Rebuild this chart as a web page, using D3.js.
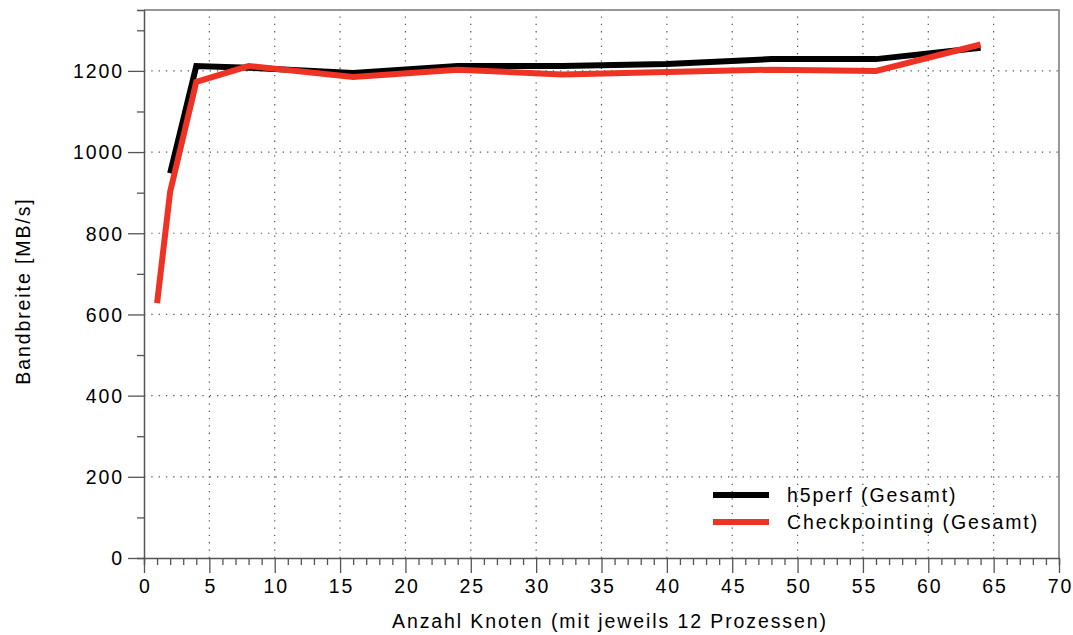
<!DOCTYPE html>
<html>
<head>
<meta charset="utf-8">
<script src="https://cdn.jsdelivr.net/npm/d3@7"></script>
<style>
  body { margin: 0; background: #fff; }
  svg { display: block; font-family: "Liberation Sans", Arial, Helvetica, sans-serif; }
  svg text { font-size: 19.5px; letter-spacing: 1.9px; fill: #000; }
</style>
</head>
<body>
<svg id="chart" width="1073" height="635"></svg>
<script>
// Node counts and measured bandwidth (MB/s)
const nodesH5 = [2, 4, 8, 16, 24, 32, 40, 48, 56, 64];
const h5perf = [948, 1212, 1208, 1195, 1212, 1212, 1217, 1229, 1229, 1257];
const nodesCp = [1, 2, 4, 8, 16, 24, 32, 40, 48, 56, 64];
const checkpointing = [628, 902, 1173, 1212, 1185, 1203, 1191, 1197, 1203, 1200, 1265];

const xMajorTicks = [0, 5, 10, 15, 20, 25, 30, 35, 40, 45, 50, 55, 60, 65, 70];
const yMajorTicks = [0, 200, 400, 600, 800, 1000, 1200];
const seriesNames = ["h5perf (Gesamt)", "Checkpointing (Gesamt)"];
const seriesColors = ["#000000", "#ee3224"];

const W = 1073, H = 635;
const margin = { left: 144, right: 14, top: 10, bottom: 77 };
const svg = d3.select("#chart");

const x = d3.scaleLinear().domain([0, 70]).range([margin.left, W - margin.right]);
const y = d3.scaleLinear().domain([0, 1350]).range([H - margin.bottom, margin.top]);

const axisColor = "#555";
const trail = 0.95; // half of the trailing letter-spacing, for centred labels

// dotted grid
const grid = svg.append("g").attr("stroke", "#555").attr("stroke-width", 1.2)
  .attr("stroke-dasharray", "1.3,6");
grid.selectAll(".gv").data(xMajorTicks.filter(d => d > 0 && d < 70)).join("line")
  .attr("x1", d => x(d)).attr("x2", d => x(d))
  .attr("y1", y(0)).attr("y2", y(1350));
grid.selectAll(".gh").data(yMajorTicks.filter(d => d > 0)).join("line")
  .attr("y1", d => y(d)).attr("y2", d => y(d))
  .attr("x1", x(0)).attr("x2", x(70));

// frame (top & right)
svg.append("path")
  .attr("d", `M${x(0)},${y(1350)}H${x(70)}V${y(0)}`)
  .attr("fill", "none").attr("stroke", "#777").attr("stroke-width", 1.5);

// x axis: minor ticks every node, labels every 5
const xAxis = svg.append("g").attr("transform", `translate(0,${y(0)})`)
  .call(d3.axisBottom(x).tickValues(d3.range(0, 71, 1)).tickSize(7).tickFormat(""));
xAxis.select(".domain").attr("stroke", axisColor).attr("stroke-width", 1.5);
xAxis.selectAll(".tick line").attr("stroke", axisColor).attr("stroke-width", 1.3)
  .attr("y2", d => d % 5 === 0 ? 15 : 7);
xAxis.selectAll(".tick").filter(d => d % 5 === 0).append("text")
  .attr("x", trail).attr("y", 35).attr("text-anchor", "middle")
  .text(d => d);

// y axis: minor ticks every 100, labels every 200
const yAxis = svg.append("g").attr("transform", `translate(${x(0)},0)`)
  .call(d3.axisLeft(y).tickValues(d3.range(0, 1301, 100)).tickSize(7).tickFormat(""));
yAxis.select(".domain").attr("stroke", axisColor).attr("stroke-width", 1.5);
yAxis.selectAll(".tick line").attr("stroke", axisColor).attr("stroke-width", 1.3)
  .attr("x2", d => d % 200 === 0 ? -16 : -7);
yAxis.selectAll(".tick").filter(d => d % 200 === 0).append("text")
  .attr("x", -20.1).attr("dy", "0.35em").attr("text-anchor", "end")
  .text(d => d);

// axis titles
svg.append("text")
  .attr("x", 609 + trail).attr("y", 628).attr("text-anchor", "middle")
  .text("Anzahl Knoten (mit jeweils 12 Prozessen)");
svg.append("text")
  .attr("transform", `translate(30,${292 - trail}) rotate(-90)`).attr("text-anchor", "middle")
  .text("Bandbreite [MB/s]");

// series
const line = d3.line().x(d => x(d[0])).y(d => y(d[1]));
const series = [
  d3.zip(nodesH5, h5perf),
  d3.zip(nodesCp, checkpointing)
];
series.forEach((pts, i) => {
  svg.append("path").datum(pts)
    .attr("d", line)
    .attr("fill", "none")
    .attr("stroke", seriesColors[i])
    .attr("stroke-width", 6)
    .attr("stroke-linejoin", "miter");
});

// legend
const legend = svg.append("g");
seriesNames.forEach((name, i) => {
  const ly = 495 + i * 27;
  legend.append("line")
    .attr("x1", 713).attr("x2", 769).attr("y1", ly).attr("y2", ly)
    .attr("stroke", seriesColors[i]).attr("stroke-width", 6);
  legend.append("text")
    .attr("x", 787).attr("y", ly).attr("dy", "0.35em")
    .text(name);
});
</script>
</body>
</html>
